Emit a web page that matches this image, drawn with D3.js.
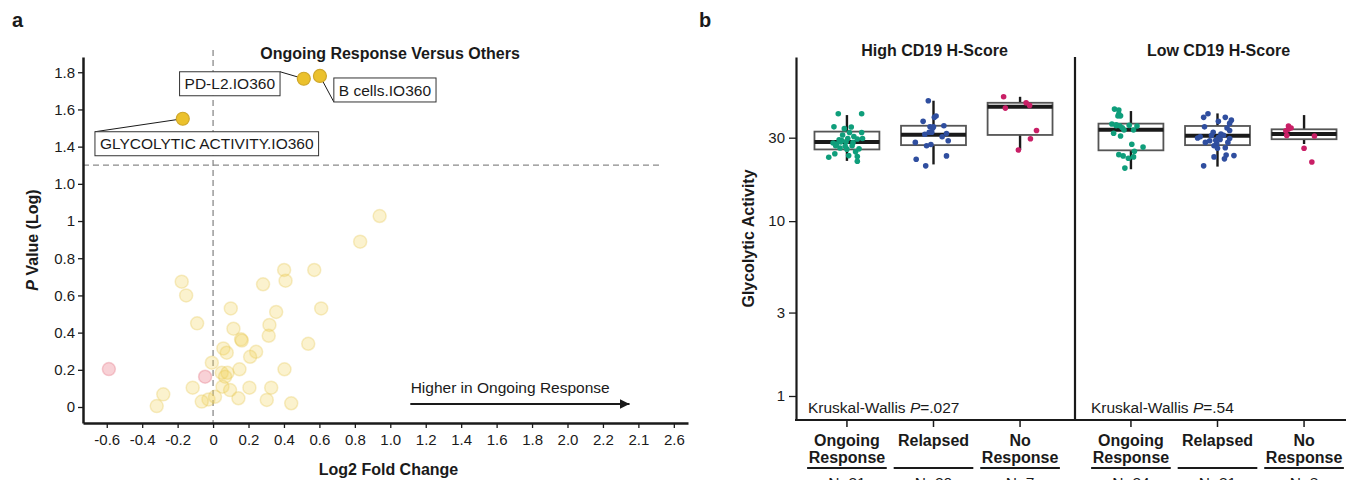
<!DOCTYPE html>
<html>
<head>
<meta charset="utf-8">
<script src="https://cdn.jsdelivr.net/npm/d3@7"></script>
<style>
  body { margin: 0; background: #fff; }
  text { font-family: Arial, "Liberation Sans", Helvetica, sans-serif; fill: #1a1a1a; }
</style>
</head>
<body>
<svg id="fig" width="1346" height="480"></svg>
<script>
// ---------- Panel a: volcano plot ----------
const hitLabels = ["PD-L2.IO360", "B cells.IO360", "GLYCOLYTIC ACTIVITY.IO360"];
const hitFC = [0.512, 0.603, -0.171];
const hitP = [1.765, 1.78, 1.55];

const nsFC = [0.94, 0.83, 0.401, 0.571, 0.409, 0.282, -0.177, -0.152, 0.10, 0.61,
  0.356, -0.09, 0.318, 0.115, 0.314, 0.158, 0.162, 0.537, 0.058, 0.077,
  0.243, 0.209, -0.007, 0.149, 0.403, 0.049, 0.081, 0.068, -0.115, 0.053,
  0.205, 0.328, 0.096, -0.281, 0.143, -0.026, 0.011, -0.064, 0.303, 0.441, -0.318];
const nsP = [1.027, 0.889, 0.737, 0.737, 0.679, 0.66, 0.674, 0.60, 0.53, 0.53,
  0.511, 0.45, 0.441, 0.421, 0.383, 0.364, 0.357, 0.34, 0.315, 0.292,
  0.297, 0.27, 0.238, 0.203, 0.203, 0.184, 0.184, 0.163, 0.104, 0.109,
  0.104, 0.104, 0.091, 0.068, 0.047, 0.041, 0.055, 0.029, 0.038, 0.02, 0.005];

const downFC = [-0.588, -0.045];
const downP = [0.204, 0.163];

const xTickValues = [-0.6, -0.4, -0.2, 0, 0.2, 0.4, 0.6, 0.8, 1.0, 1.2, 1.4, 1.6, 1.8, 2.0, 2.2, 2.4, 2.6];
const xTickLabels = ["-0.6", "-0.4", "-0.2", "0", "0.2", "0.4", "0.6", "0.8", "1.0", "1.2", "1.4", "1.6", "1.8", "2.0", "2.2", "2.1", "2.6"];
const yTickValues = [0, 0.2, 0.4, 0.6, 0.8, 1.0, 1.2, 1.4, 1.6, 1.8];
const yTickLabels = ["0", "0.2", "0.4", "0.6", "0.8", "1", "1.0", "1.4", "1.6", "1.8"];
const pThreshold = 1.301;

// ---------- Panel b: glycolytic activity by response ----------
const facetNames = ["High CD19 H-Score", "Low CD19 H-Score"];
const categories = ["Ongoing Response", "Relapsed", "No Response"];
const groupN = [["N=31", "N=20", "N=7"], ["N=24", "N=31", "N=8"]];
const kwLabels = [".027", ".54"];
const yLogTicks = [1, 3, 10, 30];

// [lower whisker, Q1, median, Q3, upper whisker]
const boxHigh = [[22.1, 25.7, 28.3, 32.5, 40.4], [21.1, 27.2, 31.2, 35.1, 48.8], [25.5, 31.1, 45.1, 47.5, 51.4]];
const boxLow = [[19.8, 25.4, 33.3, 36.1, 42.6], [20.5, 27.2, 30.8, 35.0, 41.3], [27.6, 29.4, 31.5, 33.5, 40.4]];

const highOngoing = [41.1, 41.1, 34.6, 33.8, 34.5, 32.1, 32.1, 31.1, 29.7, 29.5, 29.7, 27.6, 28.4, 28.4, 28.1, 26.2, 25.8, 24.3, 23.2, 23.7, 24.9, 23.4, 22.0, 28.9, 29.2, 26.8, 27.0, 25.9, 28.0, 30.5, 27.0];
const highOngoingJit = [-0.10, 0.17, -0.15, -0.03, 0.05, 0.03, 0.17, -0.05, 0.18, 0.12, 0.01, -0.12, -0.07, -0.01, 0.07, -0.08, 0.00, -0.14, -0.21, 0.02, 0.10, 0.12, 0.12, -0.06, -0.09, -0.02, 0.06, 0.14, -0.16, 0.08, -0.13];
const highRelapsed = [48.8, 37.2, 39.2, 39.9, 34.6, 34.6, 35.1, 32.2, 32.2, 31.4, 31.7, 30.4, 28.8, 28.2, 27.0, 27.4, 23.6, 22.6, 20.7, 34.0];
const highRelapsedJit = [-0.06, -0.12, 0.01, 0.03, 0.00, -0.04, 0.12, -0.05, -0.02, -0.10, 0.15, 0.10, 0.17, -0.21, -0.08, -0.03, 0.15, -0.20, -0.09, -0.01];
const highNoResp = [51.4, 44.3, 47.5, 45.9, 33.0, 29.6, 25.5];
const highNoRespJit = [-0.19, -0.17, 0.07, 0.11, 0.19, 0.12, -0.02];
const lowOngoing = [43.7, 43.2, 41.0, 40.0, 39.9, 35.9, 35.1, 35.1, 33.2, 35.3, 35.0, 33.2, 31.8, 30.7, 27.5, 26.5, 25.1, 24.0, 23.6, 22.9, 23.3, 20.1, 35.5, 34.2];
const lowOngoingJit = [-0.19, -0.14, -0.14, -0.12, -0.15, -0.22, -0.17, -0.13, -0.08, -0.02, 0.07, 0.03, -0.20, -0.12, 0.01, 0.14, 0.04, -0.14, -0.09, -0.03, 0.03, -0.07, -0.17, -0.10];
const lowRelapsed = [39.2, 41.1, 39.2, 37.2, 37.8, 36.2, 34.1, 34.6, 32.2, 31.5, 30.1, 29.9, 30.4, 29.7, 28.2, 27.8, 27.0, 28.2, 26.3, 26.1, 23.3, 23.9, 23.7, 22.7, 20.7, 29.0, 31.0, 28.8, 33.0, 30.9, 29.3];
const lowRelapsedJit = [-0.16, -0.11, 0.09, 0.01, 0.16, 0.14, 0.11, -0.15, -0.05, 0.04, 0.01, -0.23, -0.20, 0.14, -0.14, -0.01, -0.04, 0.12, 0.09, 0.00, -0.04, 0.10, 0.19, 0.08, -0.16, -0.02, 0.07, -0.09, 0.14, -0.07, 0.03];
const lowNoResp = [35.0, 34.1, 32.9, 30.9, 30.7, 26.1, 21.8, 33.6];
const lowNoRespJit = [-0.18, -0.15, -0.21, -0.20, 0.12, 0.00, 0.09, -0.18];

const groupColors = ["#0F9E7B", "#2F4E9F", "#C91F66"];

// ===================================================================
const svg = d3.select("#fig");
const ink = "#1a1a1a";

// ---------- Panel a ----------
svg.append("text").attr("x", 12).attr("y", 27).attr("font-size", 20).attr("font-weight", "bold").text("a");

const xA = d3.scaleLinear().domain([-0.734, 2.68]).range([83, 688]);
const yA = d3.scaleLinear().domain([-0.086, 1.882]).range([423, 57]);

const gA = svg.append("g");

// reference lines
gA.append("line")
  .attr("x1", xA(0)).attr("x2", xA(0)).attr("y1", 50).attr("y2", yA.range()[0])
  .attr("stroke", "#8a8a8a").attr("stroke-width", 1.3).attr("stroke-dasharray", "6,4");
gA.append("line")
  .attr("x1", xA.range()[0]).attr("x2", xA(2.52)).attr("y1", yA(pThreshold)).attr("y2", yA(pThreshold))
  .attr("stroke", "#8a8a8a").attr("stroke-width", 1.3).attr("stroke-dasharray", "6,4");

// axes
const xAxisA = gA.append("g").attr("transform", `translate(0,${yA.range()[0]})`)
  .call(d3.axisBottom(xA).tickValues(xTickValues).tickFormat((d, i) => xTickLabels[i]).tickSize(5).tickSizeOuter(0));
const yAxisA = gA.append("g").attr("transform", `translate(${xA.range()[0]},0)`)
  .call(d3.axisLeft(yA).tickValues(yTickValues).tickFormat((d, i) => yTickLabels[i]).tickSize(5).tickSizeOuter(0));
[xAxisA, yAxisA].forEach(ax => {
  ax.select(".domain").attr("stroke", ink).attr("stroke-width", 2.5);
  ax.selectAll(".tick line").attr("stroke", ink).attr("stroke-width", 1.3);
  ax.selectAll(".tick text").attr("font-size", 15).attr("fill", ink).attr("font-family", "Arial, 'Liberation Sans', sans-serif");
});
xAxisA.selectAll(".tick text").attr("dy", "0.95em");

// background points
gA.append("g").selectAll("circle").data(nsFC).join("circle")
  .attr("cx", d => xA(d)).attr("cy", (d, i) => yA(nsP[i])).attr("r", 6.5)
  .attr("fill", "#F3D35C").attr("fill-opacity", 0.3)
  .attr("stroke", "#E3C44A").attr("stroke-opacity", 0.3).attr("stroke-width", 1.5);
gA.append("g").selectAll("circle").data(downFC).join("circle")
  .attr("cx", d => xA(d)).attr("cy", (d, i) => yA(downP[i])).attr("r", 6.5)
  .attr("fill", "#EC7A8A").attr("fill-opacity", 0.35)
  .attr("stroke", "#E06878").attr("stroke-opacity", 0.3).attr("stroke-width", 1.5);

// labelled hits: box centre offset from point, and which box corner the leader joins
const labelLayout = [
  { dx: -74, dy: 5, corner: "tr" },
  { dx: 65, dy: 14, corner: "bl" },
  { dx: 24, dy: 25, corner: "tl" }
];
const gLab = gA.append("g");
hitFC.forEach((fc, i) => {
  const px = xA(fc), py = yA(hitP[i]);
  const L = labelLayout[i];
  const cx = px + L.dx, cy = py + L.dy;
  const t = gLab.append("text").attr("x", cx).attr("y", cy).attr("text-anchor", "middle")
    .attr("dy", "0.36em").attr("font-size", 15.5).text(hitLabels[i]);
  const w = t.node().getComputedTextLength() + 10, h = 24;
  const bx = cx - w / 2, by = cy - h / 2;
  const corner = { tl: [bx, by], tr: [bx + w, by], bl: [bx, by + h], br: [bx + w, by + h] }[L.corner];
  gLab.insert("line", "text").attr("x1", corner[0]).attr("y1", corner[1]).attr("x2", px).attr("y2", py)
    .attr("stroke", ink).attr("stroke-width", 1);
  gLab.insert("rect", "text").attr("x", bx).attr("y", by).attr("width", w).attr("height", h)
    .attr("fill", "#fff").attr("stroke", "#333").attr("stroke-width", 1);
});
gA.append("g").selectAll("circle").data(hitFC).join("circle")
  .attr("cx", d => xA(d)).attr("cy", (d, i) => yA(hitP[i])).attr("r", 6.5)
  .attr("fill", "#EBC12C").attr("stroke", "#CFA72A").attr("stroke-width", 1.2);

// titles
gA.append("text").attr("x", 390).attr("y", 59).attr("text-anchor", "middle")
  .attr("font-size", 16).attr("font-weight", "bold").text("Ongoing Response Versus Others");
gA.append("text").attr("x", (xA.range()[0] + xA.range()[1]) / 2 + 3).attr("y", 475).attr("text-anchor", "middle")
  .attr("font-size", 16).attr("font-weight", "bold").text("Log2 Fold Change");
const yLabA = gA.append("text").attr("transform", `translate(38,${(yA.range()[0] + yA.range()[1]) / 2}) rotate(-90)`)
  .attr("text-anchor", "middle").attr("font-size", 16).attr("font-weight", "bold");
yLabA.append("tspan").attr("font-style", "italic").text("P");
yLabA.append("tspan").text(" Value (Log)");

// direction arrow
const defs = svg.append("defs");
defs.append("marker").attr("id", "arrowHead").attr("viewBox", "0 0 10 10").attr("refX", 10).attr("refY", 5)
  .attr("markerWidth", 10).attr("markerHeight", 10).attr("markerUnits", "userSpaceOnUse").attr("orient", "auto")
  .append("path").attr("d", "M0,0 L10,5 L0,10 Z").attr("fill", ink);
gA.append("line").attr("x1", xA(1.113)).attr("x2", xA(2.35)).attr("y1", yA(0.016)).attr("y2", yA(0.016))
  .attr("stroke", ink).attr("stroke-width", 2).attr("marker-end", "url(#arrowHead)");
gA.append("text").attr("x", xA(1.115)).attr("y", yA(0.075)).attr("font-size", 15.5).text("Higher in Ongoing Response");

// ---------- Panel b ----------
svg.append("text").attr("x", 699).attr("y", 27).attr("font-size", 20).attr("font-weight", "bold").text("b");

const yB = d3.scaleLog().domain([0.729, 86.8]).range([420, 57]);
const facetRanges = [[795, 1072], [1079, 1356]];
const facetDividers = [796, 1075];
const boxes = [boxHigh, boxLow];
const points = [
  [[highOngoing, highOngoingJit], [highRelapsed, highRelapsedJit], [highNoResp, highNoRespJit]],
  [[lowOngoing, lowOngoingJit], [lowRelapsed, lowRelapsedJit], [lowNoResp, lowNoRespJit]]
];

const gB = svg.append("g");

// y axis
const yAxisB = gB.append("g").attr("transform", `translate(${facetDividers[0]},0)`)
  .call(d3.axisLeft(yB).tickValues(yLogTicks).tickFormat(d3.format("d")).tickSize(7).tickSizeOuter(0));
yAxisB.select(".domain").attr("stroke", ink).attr("stroke-width", 2.2);
yAxisB.selectAll(".tick line").attr("stroke", ink).attr("stroke-width", 1.3);
yAxisB.selectAll(".tick text").attr("font-size", 15).attr("fill", ink).attr("dx", "-1px");

gB.append("text").attr("transform", `translate(754,${(yB.range()[0] + yB.range()[1]) / 2}) rotate(-90)`)
  .attr("text-anchor", "middle").attr("font-size", 16).attr("font-weight", "bold").text("Glycolytic Activity");

// second facet axis line and shared baseline
gB.append("line").attr("x1", facetDividers[1]).attr("x2", facetDividers[1]).attr("y1", yB.range()[1]).attr("y2", yB.range()[0])
  .attr("stroke", ink).attr("stroke-width", 2.2);
gB.append("line").attr("x1", facetDividers[0] - 1).attr("x2", 1356).attr("y1", yB.range()[0]).attr("y2", yB.range()[0])
  .attr("stroke", ink).attr("stroke-width", 2.2);

facetNames.forEach((fname, f) => {
  const xB = d3.scalePoint().domain(categories).range(facetRanges[f]).padding(0.6);
  const step = xB.step();
  const bw = step * 0.75;
  const g = gB.append("g");

  g.append("text").attr("x", (facetRanges[f][0] + facetRanges[f][1]) / 2 + 1).attr("y", 56)
    .attr("text-anchor", "middle").attr("font-size", 16).attr("font-weight", "bold").text(fname);

  categories.forEach((cat, c) => {
    const cx = xB(cat);
    const [lo, q1, med, q3, hi] = boxes[f][c];
    // whiskers
    g.append("line").attr("x1", cx).attr("x2", cx).attr("y1", yB(hi)).attr("y2", yB(q3))
      .attr("stroke", ink).attr("stroke-width", 2.4);
    g.append("line").attr("x1", cx).attr("x2", cx).attr("y1", yB(q1)).attr("y2", yB(lo))
      .attr("stroke", ink).attr("stroke-width", 2.4);
    // box
    g.append("rect").attr("x", cx - bw / 2).attr("width", bw).attr("y", yB(q3)).attr("height", yB(q1) - yB(q3))
      .attr("fill", "#fff").attr("stroke", "#555").attr("stroke-width", 1.8);
    g.append("line").attr("x1", cx - bw / 2).attr("x2", cx + bw / 2).attr("y1", yB(med)).attr("y2", yB(med))
      .attr("stroke", ink).attr("stroke-width", 4);
    // jittered observations
    const [vals, jit] = points[f][c];
    g.append("g").selectAll("circle").data(vals).join("circle")
      .attr("cx", (d, i) => cx + jit[i] * step).attr("cy", d => yB(d)).attr("r", 2.8)
      .attr("fill", groupColors[c]);

    // category tick + labels
    g.append("line").attr("x1", cx).attr("x2", cx).attr("y1", yB.range()[0]).attr("y2", yB.range()[0] + 7)
      .attr("stroke", ink).attr("stroke-width", 1.5);
    const words = cat.split(" ");
    words.forEach((w, k) => {
      g.append("text").attr("x", cx).attr("y", 446 + k * 16.5).attr("text-anchor", "middle")
        .attr("font-size", 16).attr("font-weight", "bold").text(w);
    });
    g.append("line").attr("x1", cx - step * 0.46).attr("x2", cx + step * 0.46).attr("y1", 468).attr("y2", 468)
      .attr("stroke", ink).attr("stroke-width", 2);
    g.append("text").attr("x", cx).attr("y", 488).attr("text-anchor", "middle").attr("font-size", 15.5)
      .text(groupN[f][c]);
  });

  const kw = g.append("text").attr("x", facetDividers[f] + (f === 0 ? 12 : 16)).attr("y", 413).attr("font-size", 15.5);
  kw.append("tspan").text("Kruskal-Wallis ");
  kw.append("tspan").attr("font-style", "italic").text("P");
  kw.append("tspan").text("=" + kwLabels[f]);
});
</script>
</body>
</html>
